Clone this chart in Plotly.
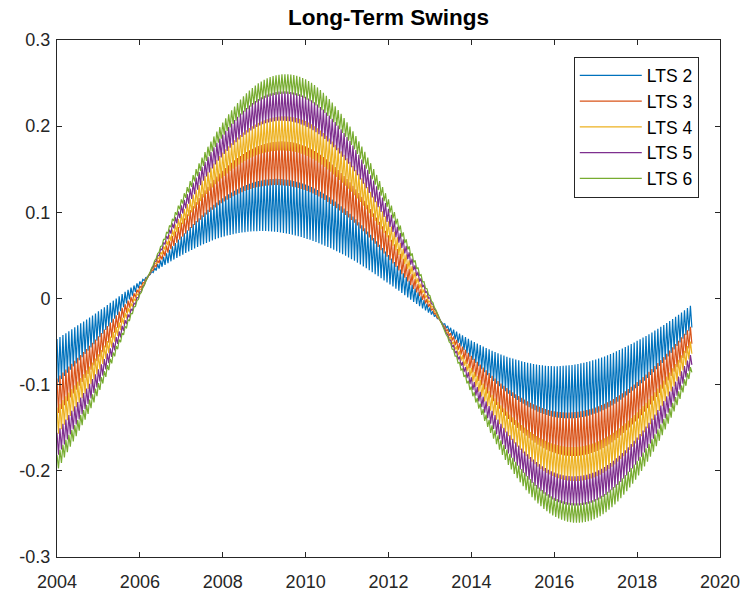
import numpy as np
import plotly.graph_objects as go

# Knot times (years) at which the slow centre line of each series was read
years = [2004, 2005, 2006, 2007, 2008, 2009, 2010, 2011, 2012, 2013,
         2014, 2015, 2016, 2017, 2018, 2019, 2019.33]

lts2 = [-0.073, -0.031, 0.017, 0.061, 0.094, 0.108, 0.101, 0.075, 0.034, -0.014,
        -0.059, -0.092, -0.108, -0.102, -0.076, -0.036, -0.020]
lts3 = [-0.114, -0.057, 0.012, 0.079, 0.130, 0.155, 0.151, 0.117, 0.060, -0.009,
        -0.075, -0.127, -0.155, -0.152, -0.119, -0.063, -0.041]
lts4 = [-0.143, -0.075, 0.009, 0.091, 0.155, 0.188, 0.186, 0.146, 0.079, -0.005,
        -0.087, -0.152, -0.188, -0.187, -0.149, -0.082, -0.055]
lts5 = [-0.170, -0.091, 0.006, 0.102, 0.178, 0.219, 0.217, 0.173, 0.095, -0.001,
        -0.097, -0.175, -0.218, -0.218, -0.176, -0.100, -0.069]
lts6 = [-0.191, -0.104, 0.004, 0.111, 0.196, 0.243, 0.243, 0.195, 0.109, 0.002,
        -0.106, -0.193, -0.242, -0.244, -0.198, -0.114, -0.080]

# Width of each series' fast wiggle band, relative to the LTS2-LTS6 spread
swing = [0.22, 0.18, 0.14, 0.12, 0.08]

names = ["LTS 2", "LTS 3", "LTS 4", "LTS 5", "LTS 6"]
colors = ["#0072BD", "#D95319", "#EDB120", "#7E2F8E", "#77AC30"]

x_ticks = [2004, 2006, 2008, 2010, 2012, 2014, 2016, 2018, 2020]
y_ticks = [-0.3, -0.2, -0.1, 0, 0.1, 0.2, 0.3]
y_tick_labels = ["-0.3", "-0.2", "-0.1", "0", "0.1", "0.2", "0.3"]


def hermite(xk, yk, xq):
    xk = np.asarray(xk, float)
    yk = np.asarray(yk, float)
    m = np.gradient(yk, xk)
    idx = np.clip(np.searchsorted(xk, xq) - 1, 0, len(xk) - 2)
    h = xk[idx + 1] - xk[idx]
    s = (xq - xk[idx]) / h
    h00 = 2 * s**3 - 3 * s**2 + 1
    h10 = s**3 - 2 * s**2 + s
    h01 = -2 * s**3 + 3 * s**2
    h11 = s**3 - s**2
    return h00 * yk[idx] + h10 * h * m[idx] + h01 * yk[idx + 1] + h11 * h * m[idx + 1]


t = np.arange(years[0], years[-1] + 1e-9, 1 / 28)
sign = np.where(np.arange(len(t)) % 2 == 0, 1.0, -1.0)
spread = np.abs(hermite(years, lts6, t) - hermite(years, lts2, t))

fig = go.Figure()
for name, col, vals, sw in zip(names, colors, [lts2, lts3, lts4, lts5, lts6], swing):
    centre = hermite(years, vals, t)
    y = centre + sign * sw * spread
    fig.add_trace(go.Scatter(x=t, y=y, mode="lines", name=name, legendgroup=name,
                             line=dict(color=col, width=1.2)))

tickfont = dict(family="Liberation Sans", size=18, color="#262626")
axis_common = dict(showline=True, linecolor="#262626", linewidth=1, mirror="ticks",
                   ticks="inside", ticklen=5, tickcolor="#262626", showgrid=False,
                   zeroline=False, tickfont=tickfont, automargin=False)

fig.update_layout(
    width=741, height=596,
    margin=dict(l=57, r=21, t=40, b=39),
    paper_bgcolor="white", plot_bgcolor="white",
    title=dict(text="<b>Long-Term Swings</b>", x=0.5, xref="paper", y=0.971, yanchor="middle",
               font=dict(family="Liberation Sans", size=22.5, color="#000000")),
    xaxis=dict(range=[2004, 2020], tickvals=x_ticks, ticktext=[str(v) for v in x_ticks],
               ticklabelstandoff=8, **axis_common),
    yaxis=dict(range=[-0.3, 0.3], tickvals=y_ticks, ticktext=y_tick_labels,
               ticklabelstandoff=2, **axis_common),
    legend=dict(x=0.968, y=0.968, xanchor="right", yanchor="top",
                bordercolor="#262626", borderwidth=1, bgcolor="white",
                font=dict(family="Liberation Sans", size=17.5, color="#000000"),
                itemwidth=62, tracegroupgap=0, traceorder="normal"),
    showlegend=True,
)

fig.write_html("out.html")
